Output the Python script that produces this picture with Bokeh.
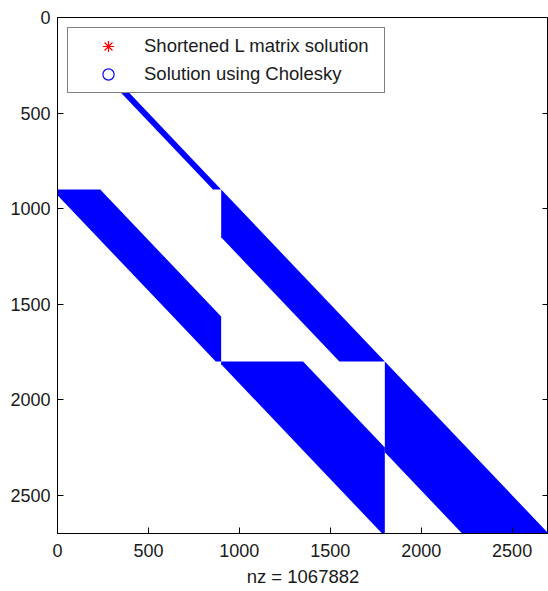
import numpy as np
from bokeh.plotting import figure
from bokeh.models import (Range1d, FixedTicker, LinearAxis, Legend, LegendItem,
                          ColumnDataSource, CustomJSTickFormatter)
from bokeh.embed import file_html
from bokeh.resources import INLINE

# ---- data (spy plot of a block lower-triangular L factor) ----
n = 2700
tick_values = [0, 500, 1000, 1500, 2000, 2500]
nz_count = 1067882

# each band: rows [row_start,row_end], cols [col_start,col_end],
# nonzeros where  row - far <= col <= row - near
band_row_start = [100, 900, 900, 1800, 1800]
band_row_end = [900, 1800, 1800, 2700, 2700]
band_col_start = [0, 0, 900, 900, 1800]
band_col_end = [900, 900, 1800, 1800, 2700]
band_near = [0, 665, 0, 450, 0]
band_far = [45, 930, 250, 915, 475]

legend_labels = ["Shortened L matrix solution", "Solution using Cholesky"]


def band_polygon(r0, r1, c0, c1, near, far):
    rows = [r0, r1] + [r for r in (c0 + far, c1 + near) if r0 < r < r1]
    rows = np.array(sorted(set(rows)), dtype=float)
    lo = np.maximum(c0, rows - far)
    hi = np.minimum(c1, rows - near)
    xs = np.concatenate([lo, hi[::-1]])
    ys = np.concatenate([rows, rows[::-1]])
    return xs.tolist(), ys.tolist()


xs_list, ys_list = [], []
for r0, r1, c0, c1, nr, fr in zip(band_row_start, band_row_end, band_col_start,
                                  band_col_end, band_near, band_far):
    xs, ys = band_polygon(r0, r1, c0, c1, nr, fr)
    xs_list.append(xs)
    ys_list.append(ys)

FONT = "Liberation Sans"
TXT = "#1a1a1a"

p = figure(width=548, height=591, x_range=Range1d(0, n), y_range=Range1d(n, 0),
           output_backend="svg", toolbar_location=None,
           min_border_left=57, min_border_right=0, min_border_top=17, min_border_bottom=58)

p.patches(xs_list, ys_list, fill_color="#0000FF", line_color=None)

# legend proxies (no visible points)
proxy = ColumnDataSource(data=dict(x=[np.nan], y=[np.nan]))
r_star = p.scatter(x="x", y="y", source=proxy, marker="asterisk", line_color="red", line_width=1.2)
r_circ = p.scatter(x="x", y="y", source=proxy, marker="circle", fill_color=None,
                   line_color="blue", line_width=1.2)

legend = Legend(items=[LegendItem(label=legend_labels[0], renderers=[r_star]),
                       LegendItem(label=legend_labels[1], renderers=[r_circ])],
                location="top_left", margin=10, padding=4, spacing=0,
                glyph_width=72, glyph_height=28, label_height=28, label_width=236,
                label_standoff=0, border_line_color="black", border_line_width=1,
                background_fill_color="white", background_fill_alpha=1,
                label_text_font=FONT, label_text_font_size="18.5px", label_text_color=TXT)
p.add_layout(legend)

p.grid.visible = False
p.outline_line_color = "black"
p.outline_line_width = 1
p.background_fill_color = "white"
p.border_fill_color = "white"

for ax in (p.xaxis[0], p.yaxis[0]):
    ax.ticker = FixedTicker(ticks=tick_values)
    ax.major_tick_in = 6
    ax.major_tick_out = 0
    ax.minor_tick_line_color = None
    ax.major_tick_line_color = "black"
    ax.axis_line_color = "black"
    ax.major_label_text_font = FONT
    ax.major_label_text_font_size = "18px"
    ax.major_label_text_color = TXT

p.yaxis[0].major_label_standoff = 7
p.xaxis[0].major_label_standoff = 10
p.xaxis[0].axis_label = f"nz = {nz_count}"
p.xaxis[0].axis_label_text_font = FONT
p.xaxis[0].axis_label_text_font_size = "18.5px"
p.xaxis[0].axis_label_text_font_style = "normal"
p.xaxis[0].axis_label_text_color = TXT
p.xaxis[0].axis_label_standoff = 6

right = LinearAxis(ticker=FixedTicker(ticks=tick_values), major_tick_in=6, major_tick_out=0,
                   minor_tick_line_color=None, major_label_text_font_size="0px",
                   major_label_standoff=0, axis_line_color="black")
right.formatter = CustomJSTickFormatter(code="return ''")
p.add_layout(right, "right")

open("out.html", "w").write(file_html(p, INLINE))
